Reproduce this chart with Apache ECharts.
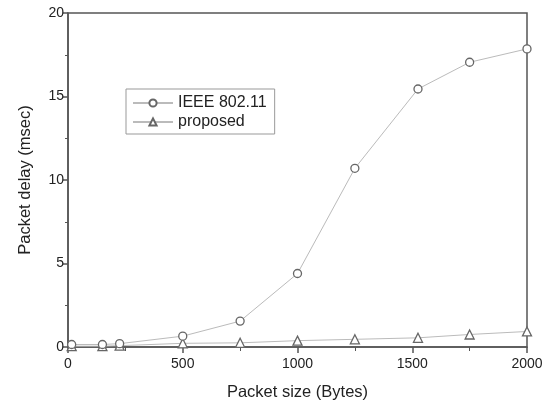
<!DOCTYPE html>
<html>
<head>
<meta charset="utf-8">
<script src="https://cdn.jsdelivr.net/npm/echarts@6/dist/echarts.min.js"></script>
<style>
html,body{margin:0;padding:0;background:#fff;}
#chart{width:549px;height:406px;}
</style>
</head>
<body>
<div id="chart"></div>
<script>
var packetSize = [16, 150, 225, 500, 750, 1000, 1250, 1525, 1750, 2000];
var ieee80211 = [0.15, 0.15, 0.2, 0.65, 1.55, 4.4, 10.7, 15.45, 17.05, 17.85];
var proposed = [0.05, 0.05, 0.08, 0.22, 0.25, 0.38, 0.46, 0.55, 0.75, 0.93];
var seriesNames = ['IEEE 802.11', 'proposed'];
var xTitle = 'Packet size (Bytes)';
var yTitle = 'Packet delay (msec)';

function pairs(xs, ys) { return xs.map(function (x, i) { return [x, ys[i]]; }); }

var font = 'Liberation Sans, Arial, sans-serif';
var textColor = '#222';
var axisColor = '#555';

var chart = echarts.init(document.getElementById('chart'), null, {renderer: 'canvas'});
chart.setOption({
  animation: false,
  backgroundColor: '#fff',
  textStyle: {fontFamily: font},
  grid: {left: 68, right: 22, top: 13, bottom: 56, show: true, borderColor: axisColor, borderWidth: 1.5, backgroundColor: 'transparent'},
  legend: {
    orient: 'vertical', left: 126, top: 89,
    padding: [6, 8, 4, 6],
    borderColor: '#999', borderWidth: 1,
    itemWidth: 40, itemHeight: 9, itemGap: 3,
    textStyle: {fontSize: 16, color: textColor, fontFamily: font},
    data: seriesNames
  },
  xAxis: {
    type: 'value', min: 0, max: 2000, interval: 500,
    name: xTitle, nameLocation: 'middle', nameGap: 37,
    nameTextStyle: {fontSize: 16.5, color: textColor, fontFamily: font},
    axisLine: {show: true, lineStyle: {color: axisColor, width: 1.5}},
    axisTick: {show: true, length: 6, lineStyle: {color: axisColor, width: 1.5}},
    minorTick: {show: true, splitNumber: 2, length: 4, lineStyle: {color: axisColor, width: 1}},
    axisLabel: {fontSize: 14, color: textColor, margin: 10, fontFamily: font,
      formatter: function (v) { return String(v); }},
    splitLine: {show: false}
  },
  yAxis: {
    type: 'value', min: 0, max: 20, interval: 5,
    name: yTitle, nameLocation: 'middle', nameGap: 34,
    nameTextStyle: {fontSize: 16.5, color: textColor, fontFamily: font},
    axisLine: {show: true, lineStyle: {color: axisColor, width: 1.5}},
    axisTick: {show: true, length: 5, lineStyle: {color: axisColor, width: 1.5}},
    minorTick: {show: true, splitNumber: 2, length: 3, lineStyle: {color: axisColor, width: 1}},
    axisLabel: {fontSize: 14, color: textColor, margin: 4, fontFamily: font},
    splitLine: {show: false}
  },
  series: [
    {
      name: seriesNames[0], type: 'line', data: pairs(packetSize, ieee80211),
      symbol: 'circle', symbolSize: 8, showAllSymbol: true,
      lineStyle: {color: '#bbb', width: 1},
      itemStyle: {color: '#fff', borderColor: '#666', borderWidth: 1.3},
      z: 3
    },
    {
      name: seriesNames[1], type: 'line', data: pairs(packetSize, proposed),
      symbol: 'triangle', symbolSize: 9, showAllSymbol: true,
      lineStyle: {color: '#bbb', width: 1},
      itemStyle: {color: '#fff', borderColor: '#666', borderWidth: 1.3},
      z: 2
    }
  ]
});
</script>
</body>
</html>
